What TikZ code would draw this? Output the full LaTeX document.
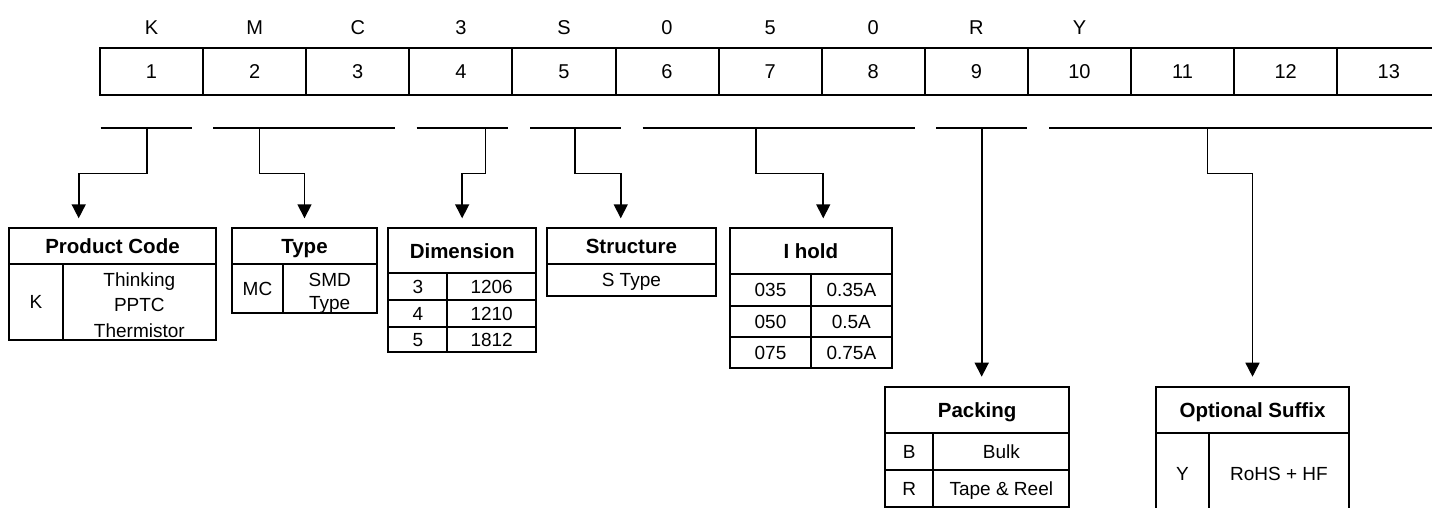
\documentclass[tikz,border=0pt]{standalone}
\usepackage{fontspec}
\setmainfont{Liberation Sans}
\usetikzlibrary{arrows.meta}
\newcommand\fbody{\fontsize{19}{23}\selectfont}
\newcommand\fmulti{\fontsize{19}{25.5}\selectfont}
\newcommand\fmultib{\fontsize{19}{22.7}\selectfont}
\newcommand\fhead{\fontsize{20.5}{24}\selectfont\bfseries}
\newcommand\ftop{\fontsize{20}{24}\selectfont}
\begin{document}
\begin{tikzpicture}[x=1pt,y=-1pt,
  base/.style={draw, inner sep=0pt, outer sep=0pt, align=center, line width=1.9pt, anchor=north west},
  hd/.style={base, font=\fhead, text height=14.7pt, text depth=0pt},
  bd/.style={base, font=\fbody, text height=13.6pt, text depth=0pt},
  txt/.style={inner sep=0pt, align=center},
  topcell/.style={draw, line width=2pt, minimum width=103.1pt, minimum height=47.3pt, inner sep=0pt, font=\ftop, text height=14.3pt, text depth=0pt},
  ltr/.style={inner sep=0pt, font=\ftop, text height=14.3pt, text depth=0pt},
  bar/.style={line width=1.6pt},
  conn/.style={line width=1.6pt, -{Triangle[width=14pt,length=14pt]}},
]
\useasboundingbox (0,0) rectangle (1432,508);

% top code row
\foreach \i in {1,...,13}
  \node[topcell] (c\i) at ({100+103.1*(\i-0.5)},71.35) {\i};
\foreach \i/\t in {1/K,2/M,3/C,4/3,5/S,6/0,7/5,8/0,9/R,10/Y}
  \node[ltr] (l\i) at ({100+103.1*(\i-0.5)},27.5) {\t};

% bracket bars
\draw[bar] (100.7,128.3) -- (192.3,128.3);
\draw[bar] (213.3,128.3) -- (395,128.3);
\draw[bar] (416.7,128.3) -- (508.3,128.3);
\draw[bar] (530,128.3) -- (620.7,128.3);
\draw[bar] (642.7,128.3) -- (914.7,128.3);
\draw[bar] (936,128.3) -- (1027.3,128.3);
\draw[bar] (1049.3,128.3) -- (1440,128.3);
\coordinate (b1) at (146.7,128.3);
\coordinate (b2) at (259.3,128.3);
\coordinate (b3) at (485.5,128.3);
\coordinate (b4) at (575,128.3);
\coordinate (b5) at (756,128.3);
\coordinate (b6) at (981.7,128.3);
\coordinate (b7) at (1207.3,128.3);

% Product Code
\node[hd, minimum width=207pt, minimum height=36pt] (pc) at (9,228.3) {Product Code};
\node[bd, minimum width=53.7pt, minimum height=75.7pt] (pck) at (9,264.3) {K};
\node[base, minimum width=153.3pt, minimum height=75.7pt] (pcd) at (62.7,264.3) {};
\node[txt, font=\fmulti] (pcdt) at ([yshift=-3pt]pcd.center) {Thinking\\PPTC\\Thermistor};

% Type
\node[hd, minimum width=144.4pt, minimum height=35.7pt] (ty) at (232.3,228.3) {Type};
\node[bd, minimum width=50.4pt, minimum height=49.3pt] (tyk) at (232.3,264) {MC};
\node[base, minimum width=94pt, minimum height=49.3pt] (tyd) at (282.7,264) {};
\node[txt, font=\fmultib] (tydt) at ([yshift=-5pt]tyd.center) {SMD\\Type};

% Dimension
\node[hd, minimum width=147.7pt, minimum height=45pt] (dm) at (388.3,228.3) {Dimension};
\node[bd, minimum width=59pt, minimum height=26.7pt] (dm1k) at (388.3,273.3) {3};
\node[bd, minimum width=88.7pt, minimum height=26.7pt] (dm1v) at (447.3,273.3) {1206};
\node[bd, minimum width=59pt, minimum height=27.3pt] (dm2k) at (388.3,300) {4};
\node[bd, minimum width=88.7pt, minimum height=27.3pt] (dm2v) at (447.3,300) {1210};
\node[bd, minimum width=59pt, minimum height=24.4pt] (dm3k) at (388.3,327.3) {5};
\node[bd, minimum width=88.7pt, minimum height=24.4pt] (dm3v) at (447.3,327.3) {1812};

% Structure
\node[hd, minimum width=169.3pt, minimum height=36pt] (st) at (546.7,228.3) {Structure};
\node[bd, minimum width=169.3pt, minimum height=31.4pt] (sts) at (546.7,264.3) {S Type};

% I hold
\node[hd, minimum width=161.7pt, minimum height=45.7pt] (ih) at (730,228.3) {I hold};
\node[bd, minimum width=81pt, minimum height=31.7pt] (ih1k) at (730,274) {035};
\node[bd, minimum width=80.7pt, minimum height=31.7pt] (ih1v) at (811,274) {0.35A};
\node[bd, minimum width=81pt, minimum height=31pt] (ih2k) at (730,305.7) {050};
\node[bd, minimum width=80.7pt, minimum height=31pt] (ih2v) at (811,305.7) {0.5A};
\node[bd, minimum width=81pt, minimum height=31pt] (ih3k) at (730,336.7) {075};
\node[bd, minimum width=80.7pt, minimum height=31pt] (ih3v) at (811,336.7) {0.75A};

% Packing
\node[hd, minimum width=184.3pt, minimum height=46.6pt] (pk) at (885,386.7) {Packing};
\node[bd, minimum width=48.3pt, minimum height=36.7pt] (pk1k) at (885,433.3) {B};
\node[bd, minimum width=136pt, minimum height=36.7pt] (pk1v) at (933.3,433.3) {Bulk};
\node[bd, minimum width=48.3pt, minimum height=36.7pt] (pk2k) at (885,470) {R};
\node[bd, minimum width=136pt, minimum height=36.7pt] (pk2v) at (933.3,470) {Tape \& Reel};

% Optional Suffix
\node[hd, minimum width=193pt, minimum height=46pt] (os) at (1156,386.7) {Optional Suffix};
\node[bd, minimum width=53pt, minimum height=81.3pt] (osk) at (1156,432.7) {Y};
\node[bd, minimum width=140pt, minimum height=81.3pt] (osv) at (1209,432.7) {RoHS + HF};

% arrow targets, 10pt above each table
\path ([yshift=10pt]pc.north) coordinate (pcT);
\path ([yshift=10pt]ty.north) coordinate (tyT);
\path ([yshift=10pt]dm.north) coordinate (dmT);
\path ([yshift=10pt]st.north) coordinate (stT);
\path ([yshift=10pt]ih.north) coordinate (ihT);
\path ([yshift=10pt]pk.north) coordinate (pkT);
\path ([yshift=10pt]os.north) coordinate (osT);

% connectors
\draw[conn] (b1) -- ++(0,45) -| ([xshift=-33.8pt]pcT);
\draw[conn] (b2) -- ++(0,45) -| (tyT);
\draw[conn] (b3) -- ++(0,45) -| (dmT);
\draw[conn] (b4) -- ++(0,45) -| ([xshift=-10.6pt]stT);
\draw[conn] (b5) -- ++(0,45) -| ([xshift=12.4pt]ihT);
\draw[conn] (b6) -- (b6 |- pkT);
\draw[conn] (b7) -- ++(0,45) -| (osT);
\end{tikzpicture}
\end{document}
